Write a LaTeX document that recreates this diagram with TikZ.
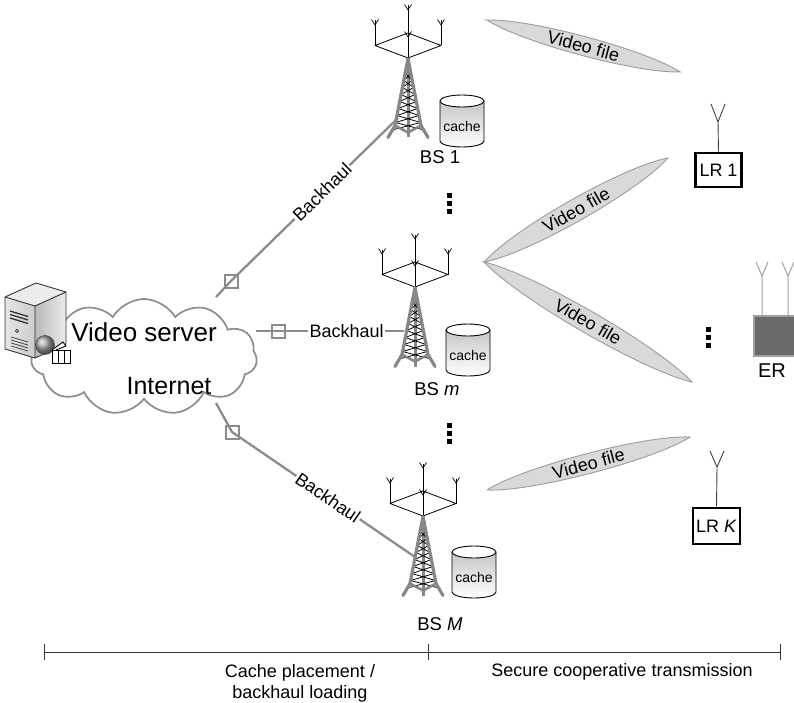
\documentclass[tikz,border=0pt]{standalone}
\usepackage{fontspec}
\setmainfont{Liberation Sans}
\usetikzlibrary{shapes.symbols}

\newcommand{\setfs}[1]{\fontsize{#1}{#1}\selectfont}

\definecolor{linkgray}{HTML}{8C8C8C}
\definecolor{towergray}{HTML}{878787}
\definecolor{beamfill}{HTML}{D9D9D9}
\definecolor{beamedge}{HTML}{9C9C9C}
\definecolor{ergray}{HTML}{6A6A6A}
\definecolor{eredge}{HTML}{A0A0A0}

\tikzset{
  backhaul/.style={draw=linkgray, line width=2.3pt},
  joint/.style={draw=linkgray, line width=2pt, minimum size=13pt, inner sep=0pt},
  linklabel/.style={fill=white, inner sep=1.2pt, font=\setfs{18}},
  bslabel/.style={font=\setfs{18.5}},
  beam/.style={fill=beamfill, draw=beamedge, line width=0.9pt},
  beamlabel/.style={font=\setfs{18}},
  rxbox/.style={draw=black, line width=2.6pt, fill=white, inner sep=0pt, font=\setfs{18}},
  rxmast/.style={draw=black!75, line width=0.9pt},
  dotmark/.style={fill=black, minimum size=5pt, inner sep=0pt},
  phase/.style={font=\setfs{18}, align=center},
  cachepic/.pic={
    \shade[top color=gray!45, bottom color=white]
      (-22,-20) -- (-22,20) arc[start angle=180, end angle=360, x radius=22pt, y radius=6pt] -- (22,-20) -- cycle;
    \draw[line width=0.9pt]
      (-22,-20) -- (-22,20) arc[start angle=180, end angle=360, x radius=22pt, y radius=6pt] -- (22,-20);
    \draw[line width=0.9pt, fill=white] (0,-20) ellipse[x radius=22pt, y radius=6pt];
    \node[font=\setfs{14}] (-text) at (0,5) {cache};
  },
  towerpic/.pic={
    % antenna platform and masts
    \draw[black, line width=0.8pt, line join=round] (-33,0) -- (0,-12.5) -- (33,0) -- (0,12.5) -- cycle;
    \draw[black, line width=0.8pt] (-33,0) -- (-33,-25) (33,0) -- (33,-25) (0,12.5) -- (0,-40);
    \foreach \px/\py in {-33/-25, 33/-25, 0/-40, 0/-13}
      \draw[black, line width=0.7pt] (\px-3.5,\py-1) -- (\px,\py+4.5) -- (\px+3.5,\py-1);
    % lattice mast
    \draw[towergray, line width=3pt] (0,12.5) -- (0,92);
    \foreach \a/\b in {28/35,35/42,42/49,49/56,56/63,63/70,70/77,77/84}
      \draw[black, line width=0.8pt]
        ({-13*(\a-13)/67},\a) -- ({13*(\b-13)/67},\b)
        ({13*(\a-13)/67},\a) -- ({-13*(\b-13)/67},\b);
    \draw[towergray, line width=3.2pt, line join=round, line cap=round]
      (-20,92) -- (-13,80) -- (0,13) -- (13,80) -- (20,92);
    \draw[towergray, line width=2.6pt, line join=round] (-13,80) -- (0,87) -- (13,80);
  },
}

\begin{document}
\begin{tikzpicture}[x=1pt, y=-1pt]
\useasboundingbox (0,0) rectangle (794,703);
\clip (0,0) rectangle (794,703);

% ---------------- Internet cloud ----------------
\node[cloud, draw=linkgray, line width=1.7pt, fill=white, cloud puffs=11,
      cloud puff arc=120, aspect=1.9, minimum width=226pt, minimum height=116pt]
  (net) at (144,357) {};
\node[font=\setfs{26}] (srvtext) at (144,332) {Video server};
\node[font=\setfs{25}] (nettext) at (169,386) {Internet};

% ---------------- video server ----------------
\coordinate (sA) at (5,297);
\coordinate (sB) at (35,306);
\coordinate (sC) at (66,292);
\coordinate (sD) at (36,283);
\coordinate (sE) at (35,358);
\coordinate (sF) at (5,349);
\coordinate (sG) at (66,344);
\fill[gray!15] (sA) -- (sD) -- (sC) -- (sB) -- cycle;
\shade[left color=gray!20, right color=gray!40] (sA) -- (sB) -- (sE) -- (sF) -- cycle;
\shade[left color=gray!55, right color=gray!15] (sB) -- (sC) -- (sG) -- (sE) -- cycle;
\draw[black!80, line width=0.9pt, line join=round]
  (sA) -- (sD) -- (sC) -- (sG) -- (sE) -- (sF) -- cycle (sA) -- (sB) -- (sC) (sB) -- (sE);
\foreach \k in {0,1,2}
  \draw[black!80, line width=1.3pt] (10,311+3.5*\k) -- (28,316.5+3.5*\k);
\draw[black!80, line width=0.7pt] (17,331) circle[radius=1.6pt];
\foreach \k in {0,1,2,3}
  \draw[black!70, line width=0.8pt] (11,337+3*\k) -- (28,342+3*\k);
\shade[ball color=gray!70] (45,345) circle[radius=9.5pt];
\draw[black!70, line width=0.6pt] (45,345) circle[radius=9.5pt];
\draw[black, line width=0.9pt, fill=white] (52,350) rectangle (70,363);
\draw[black, line width=0.9pt] (58,350) -- (58,363) (64,350) -- (64,363);
\draw[black, line width=0.9pt, fill=white] (52,350) -- (63,342) -- (66,346) -- (56,350);

% ---------------- backhaul links ----------------
\coordinate (c1) at (216,297);
\coordinate (c2) at (256,331);
\coordinate (c3) at (216,403);
\coordinate (f1) at (398,118);
\coordinate (f2) at (404,331);
\coordinate (f3) at (415,557);
\node[joint] (j1) at (231,281) {};
\node[joint] (j2) at (278,331) {};
\node[joint] (j3) at (232,432) {};
\draw[backhaul] (c1) -- (j1.center) -- (f1);
\draw[backhaul] (c2) -- (j2.center) -- (f2);
\draw[backhaul] (c3) -- (j3.center) -- (f3);
\path (j1.center) -- node[linklabel, sloped, pos=0.545] (bh1) {Backhaul} (f1);
\path (j2.center) -- node[linklabel, pos=0.545] (bh2) {Backhaul} (f2);
\path (j3.center) -- node[linklabel, sloped, pos=0.525] (bh3) {Backhaul} (f3);

% ---------------- base stations ----------------
\pic (bs1) at (408,45.5) {towerpic};
\pic (bsm) at (415,274.5) {towerpic};
\pic (bsM) at (423,503.5) {towerpic};
\pic (cache1) at (462,121) {cachepic};
\pic (cachem) at (468,350) {cachepic};
\pic (cacheM) at (474,572) {cachepic};
\node[bslabel] (bs1lab) at (440,157) {BS 1};
\node[bslabel] (bsmlab) at (437,389) {BS \textit{m}};
\node[bslabel] (bsMlab) at (440,624) {BS \textit{M}};

% vertical ellipses
\foreach \n/\x/\y in {a/449/196, b/449/425, c/708/329}
  \foreach \k in {0,1,2}
    \node[dotmark] (dot\n\k) at (\x,\y+8*\k) {};

% ---------------- video file beams ----------------
\foreach \n/\cx/\cy/\ang/\len/\w in {b1/583.5/46/-15/200/9.5, b2/576/210/29.5/211/11,
                                   b3/588/322/-30/240/11, b4/588.5/463.5/14.6/210/10}{
  \begin{scope}[shift={(\cx,\cy)}, rotate=\ang]
    \draw[beam] (-\len/2,0) .. controls (-0.3*\len,\w*4/3) and (0.3*\len,\w*4/3) .. (\len/2,0)
                .. controls (0.3*\len,-\w*4/3) and (-0.3*\len,-\w*4/3) .. cycle;
    \node[beamlabel, rotate=\ang] (\n) at (0,0) {Video file};
  \end{scope}
}

% ---------------- legitimate receivers ----------------
\node[rxbox, minimum width=46pt, minimum height=34pt] (lr1) at (718.5,170) {LR 1};
\node[rxbox, minimum width=47pt, minimum height=36pt] (lrK) at (716.5,526) {LR \textit{K}};
\coordinate (lr1tip) at (718,122);
\coordinate (lrKtip) at (717,467);
\draw[rxmast] (lr1.north) -- (lr1tip) (711,104) -- (lr1tip) -- (725,104);
\draw[rxmast] (lrK.north) -- (lrKtip) (710,451) -- (lrKtip) -- (724,451);

% ---------------- eavesdropper ----------------
\node[fill=ergray, draw=eredge, line width=2.4pt, minimum width=60pt, minimum height=40pt,
      inner sep=0pt, anchor=north west] (er) at (753,315) {};
\coordinate (ertip1) at (762,276);
\coordinate (ertip2) at (788,276);
\draw[draw=eredge, line width=1pt] (762,315) -- (ertip1) (756,262) -- (ertip1) -- (768,262);
\draw[draw=eredge, line width=1pt] (788,315) -- (ertip2) (782,262) -- (ertip2) -- (794,262);
\node[font=\setfs{20}] (erlab) at (772,371) {ER};

% ---------------- phase axis ----------------
\coordinate (ax0) at (44,652);
\coordinate (ax1) at (428,652);
\coordinate (ax2) at (780,652);
\draw[black!80, line width=0.9pt] (ax0) -- (ax2);
\foreach \p in {ax0,ax1,ax2}
  \draw[black!80, line width=0.9pt] ([yshift=8pt]\p) -- ([yshift=-8pt]\p);
\node[phase] (ph1) at (300,683) {Cache placement /\\[3pt] backhaul loading};
\node[phase] (ph2) at (622,672) {Secure cooperative transmission};
\end{tikzpicture}
\end{document}
